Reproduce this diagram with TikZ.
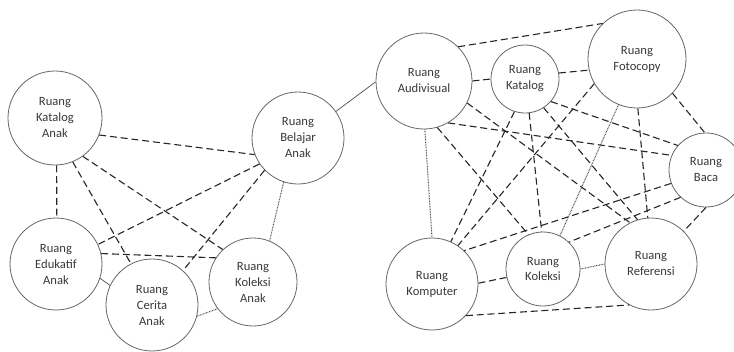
\documentclass[tikz,border=0pt]{standalone}
\usepackage{fontspec}
\setmainfont{Carlito}
\begin{document}
\begin{tikzpicture}[x=1pt,y=-1pt,
  room/.style={circle, draw=black!60, line width=0.8pt, inner sep=0pt, text=black!78, align=center, font=\fontsize{12.6}{16}\selectfont},
  dsh/.style={line width=1.1pt, black!85, dash pattern=on 7pt off 3.8pt},
  dts/.style={line width=1pt, black!70, dash pattern=on 0.8pt off 0.8pt},
  sld/.style={line width=0.7pt, black!70}]
\useasboundingbox (0,0) rectangle (734,351);
% left group
\node[room, minimum size=94pt] (ka) at (55,118) {Ruang\\Katalog\\Anak};
\node[room, minimum size=92pt] (ba) at (298,138) {Ruang\\Belajar\\Anak};
\node[room, minimum size=92pt] (ed) at (56,264) {Ruang\\Edukatif\\Anak};
\node[room, minimum size=92pt] (ce) at (152,305) {Ruang\\Cerita\\Anak};
\node[room, minimum size=88pt] (koa) at (253,282) {Ruang\\Koleksi\\Anak};
% right group
\node[room, minimum size=96pt] (au) at (424,81) {Ruang\\Audivisual};
\node[room, minimum size=68pt] (kt) at (525,79) {Ruang\\Katalog};
\node[room, minimum size=98pt] (fo) at (637,59) {Ruang\\Fotocopy};
\node[room, minimum size=74pt] (bc) at (706,170) {Ruang\\Baca};
\node[room, minimum size=92pt] (km) at (432,284) {Ruang\\Komputer};
\node[room, minimum size=74pt] (kl) at (543,269) {Ruang\\Koleksi};
\node[room, minimum size=92pt] (rf) at (651,264) {Ruang\\Referensi};
% left edges
\draw[dsh] (ka.-21) -- (ba.201);
\draw[dsh] (ka.-88) -- (ed.89);
\draw[dsh] (ka.-68) -- (ce.117);
\draw[dsh] (ka.-54) -- (koa.133);
\draw[dsh] (ba.214) -- (ed.25);
\draw[dsh] (ba.224) -- (ce.48);
\draw[dts] (ba.252) -- (koa.68);
\draw[dsh] (ed.13) -- (koa.147);
\draw[sld] (ed.-18) -- (ce.155);
\draw[dts] (ce.-14) -- (koa.217);
\draw[sld] (ba.35) -- (au.181);
% right edges
\draw[dsh] (au.45) -- (fo.134);
\draw[dsh] (au.0) -- (kt.180);
\draw[dsh] (kt.10) -- (fo.193);
\draw[dts] (au.-89) -- (km.90);
\draw[dsh] (au.-74) -- (kl.113);
\draw[dsh] (au.-27) -- (rf.117);
\draw[dsh] (au.-60) -- (bc.157);
\draw[dsh] (kt.-108) -- (km.66);
\draw[dsh] (kt.-83) -- (kl.92);
\draw[dsh] (kt.-41) -- (bc.139);
\draw[dsh] (kt.-57) -- (rf.107);
\draw[dsh] (fo.210) -- (km.56);
\draw[dts] (fo.248) -- (kl.63);
\draw[dsh] (fo.-89) -- (rf.94);
\draw[dsh] (fo.-44) -- (bc.92);
\draw[dsh] (bc.201) -- (km.46);
\draw[dsh] (bc.227) -- (kl.46);
\draw[dsh] (bc.-90) -- (rf.45);
\draw[dsh] (km.1) -- (kl.193);
\draw[dts] (kl.0) -- (rf.180);
\draw[dsh] (km.-43) -- (rf.242);
\end{tikzpicture}
\end{document}
